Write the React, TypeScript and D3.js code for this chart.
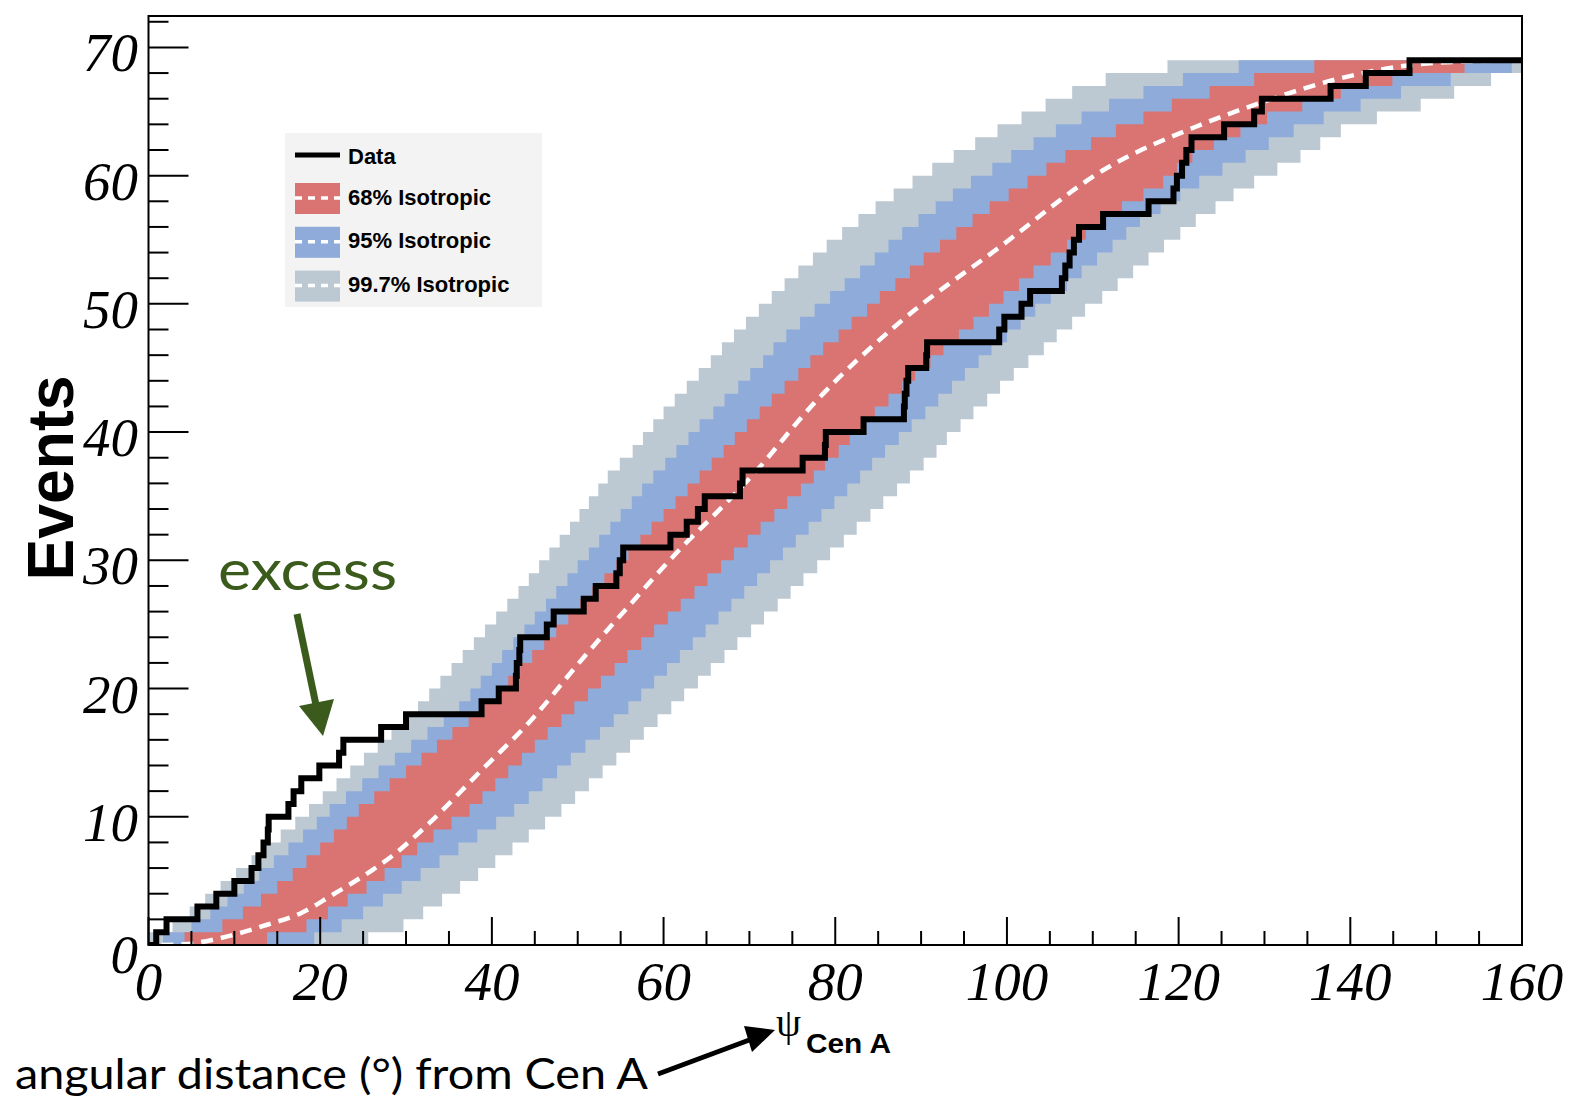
import React from "react";
import * as d3 from "d3";

const W = 1574;
const H = 1103;

// angle (deg) at which the cumulative data count steps up to 1, 2, ... 69
const dataSteps = [
  0.9, 2.1, 5.7, 7.9, 10.0, 12.0, 12.8, 13.4, 13.9, 14.0,
  16.3, 16.9, 17.8, 19.9, 22.2, 22.7, 27.1, 30.0, 38.8, 40.8,
  42.8, 42.9, 43.2, 43.3, 46.4, 47.2, 50.7, 52.1, 54.5, 54.9,
  55.3, 60.8, 62.7, 64.0, 64.8, 68.9, 69.2, 76.2, 78.8, 78.9,
  83.3, 88.0, 88.1, 88.3, 88.5, 90.6, 90.7, 99.1, 99.7, 101.7,
  102.7, 106.4, 106.8, 107.3, 107.8, 108.4, 111.2, 116.5, 119.4, 119.8,
  120.4, 120.9, 121.5, 125.3, 128.8, 129.7, 137.7, 141.8, 146.9,
];

// isotropic median (deg, events)
const medianAngles = [1.5, 4.1, 8.1, 13.9, 17.8, 21.4, 26.2, 28.3, 32.7, 38.6, 44.6, 50.4, 56.3, 62.1, 66.0, 70.3, 77.6, 87.4, 99.1, 111.4, 122.7, 130.5, 138.3, 149.9, 160];
const medianEvents = [0, 0.05, 0.5, 1.6, 2.5, 3.9, 5.9, 6.9, 9.5, 13.5, 17.55, 22.2, 26.7, 31.0, 33.6, 36.6, 42.3, 48.5, 54.4, 60.5, 64.0, 65.9, 67.5, 68.8, 69];

// band rows: row k spans events k..k+1, from left edge to right edge (deg)
const grayLeft = [
  0.0, 2.8, 4.8, 6.6, 8.4, 10.2, 12.0, 13.7, 15.4, 17.1,
  18.7, 20.3, 21.9, 23.5, 25.1, 26.7, 28.3, 29.9, 31.4, 32.7,
  34.0, 35.3, 36.6, 37.9, 39.2, 40.5, 41.8, 43.1, 44.3, 45.5,
  46.7, 47.9, 49.1, 50.2, 51.3, 52.4, 53.5, 54.9, 56.4, 57.6,
  58.8, 60.0, 61.3, 62.7, 64.1, 65.5, 66.8, 68.2, 69.6, 71.1,
  72.6, 74.1, 75.7, 77.4, 79.0, 80.8, 82.7, 84.7, 86.8, 89.0,
  91.3, 93.8, 96.3, 98.9, 101.7, 104.5, 107.6, 111.5, 118.7,
];
const blueLeft = [
  1.7, 5.0, 7.2, 9.2, 11.1, 12.9, 14.6, 16.3, 18.0, 19.6,
  21.1, 23.0, 24.9, 26.8, 28.7, 30.6, 32.5, 34.4, 36.2, 37.5,
  38.7, 40.0, 41.2, 42.5, 43.8, 45.0, 46.3, 47.5, 48.8, 50.0,
  51.3, 52.5, 53.8, 55.0, 56.3, 57.5, 58.8, 60.2, 61.5, 62.9,
  64.2, 65.8, 67.1, 68.7, 70.1, 71.6, 72.8, 74.3, 75.9, 77.6,
  79.4, 81.1, 82.9, 84.6, 86.2, 87.8, 89.7, 91.7, 93.7, 95.8,
  98.3, 100.5, 103.1, 105.7, 108.7, 111.9, 115.9, 120.5, 127.0,
];
const redLeft = [
  4.2, 8.6, 11.0, 13.1, 15.0, 16.8, 18.4, 20.0, 21.6, 23.1,
  24.5, 26.3, 28.1, 30.0, 31.8, 33.6, 35.4, 37.3, 39.1, 40.5,
  41.9, 43.3, 44.7, 46.1, 47.5, 48.9, 50.3, 51.7, 53.1, 54.5,
  55.9, 57.3, 58.6, 60.0, 61.4, 62.8, 64.2, 65.6, 67.0, 68.3,
  69.7, 71.2, 72.6, 74.1, 75.7, 77.1, 78.6, 80.4, 81.9, 83.7,
  85.2, 87.0, 88.7, 90.3, 92.2, 94.1, 96.0, 98.0, 100.2, 102.4,
  104.6, 106.8, 109.8, 112.7, 115.9, 119.2, 123.6, 128.8, 135.8,
];
const redRight = [
  13.8, 18.4, 20.9, 23.2, 25.4, 27.5, 29.5, 31.3, 33.2, 35.3,
  37.4, 38.9, 40.4, 41.9, 43.5, 45.0, 46.5, 48.1, 49.6, 51.2,
  52.7, 54.3, 55.8, 57.4, 58.9, 60.5, 62.0, 63.6, 65.1, 66.7,
  68.2, 69.8, 71.3, 72.9, 74.4, 76.0, 77.5, 78.8, 80.4, 81.7,
  83.1, 84.6, 86.2, 87.8, 89.3, 91.1, 92.6, 94.4, 96.1, 97.9,
  99.6, 101.4, 103.1, 105.1, 107.0, 109.2, 111.4, 113.4, 115.9, 118.2,
  119.8, 121.6, 124.1, 127.2, 130.3, 134.4, 138.9, 144.9, 153.3,
];
const blueRight = [
  19.3, 22.5, 25.0, 27.3, 29.5, 31.7, 33.9, 36.1, 38.3, 40.5,
  42.6, 44.3, 45.9, 47.6, 49.2, 50.9, 52.6, 54.2, 55.9, 57.4,
  58.9, 60.4, 61.9, 63.4, 64.9, 66.4, 67.9, 69.4, 70.9, 72.4,
  73.9, 75.4, 76.9, 78.4, 79.9, 81.4, 82.9, 84.3, 85.8, 87.4,
  88.9, 90.5, 92.0, 93.6, 95.1, 96.7, 98.2, 100.0, 101.6, 103.3,
  105.1, 107.0, 108.7, 110.5, 112.3, 113.9, 115.5, 117.9, 120.2, 122.4,
  125.1, 127.8, 130.5, 133.4, 136.9, 141.2, 145.9, 151.7, 158.8,
];
const grayRight = [
  25.6, 29.7, 32.0, 34.2, 36.3, 38.4, 40.4, 42.4, 44.3, 46.2,
  48.1, 49.7, 51.3, 52.9, 54.5, 56.1, 57.7, 59.3, 60.9, 62.4,
  64.0, 65.5, 67.1, 68.6, 70.2, 71.7, 73.3, 74.8, 76.3, 77.9,
  79.4, 81.0, 82.5, 84.1, 85.6, 87.2, 88.7, 90.3, 91.8, 93.0,
  94.6, 96.1, 97.7, 99.2, 100.8, 102.5, 104.3, 105.8, 107.6, 109.1,
  111.1, 112.9, 114.7, 116.5, 118.3, 120.2, 122.0, 124.3, 126.4, 128.8,
  131.5, 134.2, 136.5, 138.9, 143.1, 148.2, 152.1, 156.4, 160.0,
];

const xTicks = d3.range(0, 161, 5);
const yTicks = d3.range(0, 73, 2);
const xLabels = [0, 20, 40, 60, 80, 100, 120, 140, 160];
const yLabels = [0, 10, 20, 30, 40, 50, 60, 70];

const RED = "#d97473";
const BLUE = "#8eabda";
const GRAY = "#bdc9d2";
const GREEN = "#3b5b1c";

const legendItems = [
  { label: "68% Isotropic", color: RED },
  { label: "95% Isotropic", color: BLUE },
  { label: "99.7% Isotropic", color: GRAY },
];

const X0 = 148.5;
const X1 = 1522;
const Y0 = 945;
const Y1 = 16;

export default function App() {
  const x = d3.scaleLinear().domain([0, 160]).range([X0, X1]);
  const y = d3.scaleLinear().domain([0, 72.45]).range([Y0, Y1]);
  const line = d3
    .line<[number, number]>()
    .x((d) => x(d[0]))
    .y((d) => y(d[1]));

  const bandPath = (L: number[], R: number[]) => {
    const pts: [number, number][] = [];
    for (let k = 0; k < L.length; k++) {
      pts.push([L[k], k], [L[k], k + 1]);
    }
    for (let k = R.length - 1; k >= 0; k--) {
      pts.push([R[k], k + 1], [R[k], k]);
    }
    return line(pts) + "Z";
  };

  const dataPts: [number, number][] = [[0, 0]];
  dataSteps.forEach((a, k) => {
    dataPts.push([a, k], [a, k + 1]);
  });
  dataPts.push([160, dataSteps.length]);

  const medianPath = d3
    .line<number>()
    .x((_, i) => x(medianAngles[i]))
    .y((d) => y(d))
    .curve(d3.curveMonotoneX)(medianEvents);

  const tickFont = "'Liberation Serif', 'Times New Roman', serif";
  const sans = "'Liberation Sans', Arial, Helvetica, sans-serif";
  const hand = "Lato, 'Comic Sans MS', sans-serif";

  return (
    <svg
      width={W}
      height={H}
      viewBox={`0 0 ${W} ${H}`}
      style={{ position: "absolute", left: 0, top: 0, background: "#fff" }}
    >
      <defs>
        <clipPath id="plotClip">
          <rect x={X0} y={Y1} width={X1 - X0} height={Y0 - Y1} />
        </clipPath>
      </defs>
      <rect x={0} y={0} width={W} height={H} fill="#fff" />
      <g clipPath="url(#plotClip)">
        <path d={bandPath(grayLeft, grayRight)} fill={GRAY} />
        <path d={bandPath(blueLeft, blueRight)} fill={BLUE} />
        <path d={bandPath(redLeft, redRight)} fill={RED} />
        <path
          d={medianPath || ""}
          fill="none"
          stroke="#fff"
          strokeWidth={4.5}
          strokeDasharray="12 8"
        />
        <path
          d={line(dataPts) || ""}
          fill="none"
          stroke="#000"
          strokeWidth={6}
          strokeLinejoin="miter"
        />
      </g>

      {/* frame */}
      <rect
        x={X0}
        y={Y1}
        width={X1 - X0}
        height={Y0 - Y1}
        fill="none"
        stroke="#000"
        strokeWidth={2}
      />

      {yTicks.map((t) => (
        <line
          key={"yt" + t}
          x1={X0}
          x2={X0 + (t % 10 === 0 ? 40 : 20)}
          y1={y(t)}
          y2={y(t)}
          stroke="#000"
          strokeWidth={2}
        />
      ))}
      {xTicks.map((t) => (
        <line
          key={"xt" + t}
          x1={x(t)}
          x2={x(t)}
          y1={Y0}
          y2={Y0 - (t % 20 === 0 ? 28 : 14)}
          stroke="#000"
          strokeWidth={2}
        />
      ))}
      {yLabels.map((t) => (
        <text
          key={"yl" + t}
          x={138}
          y={y(t) + (t === 0 ? 28 : 24)}
          textAnchor="end"
          fontFamily={tickFont}
          fontStyle="italic"
          fontSize={55}
        >
          {t}
        </text>
      ))}
      {xLabels.map((t) => (
        <text
          key={"xl" + t}
          x={x(t)}
          y={1000}
          textAnchor="middle"
          fontFamily={tickFont}
          fontStyle="italic"
          fontSize={55}
        >
          {t}
        </text>
      ))}

      <text
        transform="translate(73,478) rotate(-90)"
        textAnchor="middle"
        fontFamily={sans}
        fontWeight="bold"
        fontSize={64}
        textLength={205}
        lengthAdjust="spacingAndGlyphs"
      >
        Events
      </text>

      {/* legend */}
      <rect x={285} y={133} width={257} height={174} fill="#f3f3f3" />
      <line x1={295} x2={340} y1={155} y2={155} stroke="#000" strokeWidth={5} />
      <text x={348} y={164} fontFamily={sans} fontWeight="bold" fontSize={22}>
        Data
      </text>
      {legendItems.map((it, i) => {
        const top = 183 + i * 43.8;
        return (
          <g key={it.label}>
            <rect x={295} y={top} width={45} height={31} fill={it.color} />
            <line
              x1={295}
              x2={340}
              y1={top + 15}
              y2={top + 15}
              stroke="#fff"
              strokeWidth={3.5}
              strokeDasharray="7 6"
            />
            <text
              x={348}
              y={top + 21.5}
              fontFamily={sans}
              fontWeight="bold"
              fontSize={22}
            >
              {it.label}
            </text>
          </g>
        );
      })}

      <text
        x={218}
        y={590}
        fontFamily={hand}
        fontSize={56}
        fill={GREEN}
        textLength={179}
        lengthAdjust="spacingAndGlyphs"
      >
        excess
      </text>
      <line x1={297} y1={614} x2={316} y2={705} stroke={GREEN} strokeWidth={7} />
      <polygon points="299,706 334,699 323,736" fill={GREEN} />

      <text
        x={15}
        y={1089}
        fontFamily={hand}
        fontSize={42}
        fill="#000"
        textLength={633}
        lengthAdjust="spacingAndGlyphs"
      >
        angular distance (°) from Cen A
      </text>
      <line x1={658} y1={1074} x2={752} y2={1039} stroke="#000" strokeWidth={5} />
      <polygon points="744,1026 775,1030 752,1052" fill="#000" />
      <text x={776} y={1036} fontFamily={tickFont} fontSize={40}>
        ψ
      </text>
      <text
        x={806}
        y={1053}
        fontFamily={sans}
        fontWeight="bold"
        fontSize={28}
        textLength={85}
        lengthAdjust="spacingAndGlyphs"
      >
        Cen A
      </text>
    </svg>
  );
}
